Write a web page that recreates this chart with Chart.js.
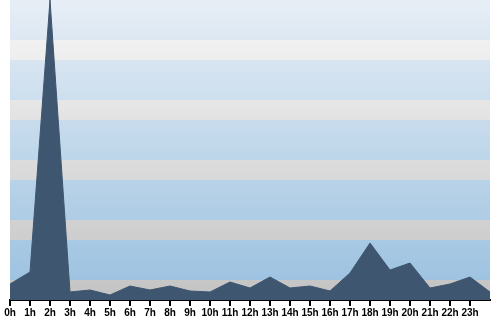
<!DOCTYPE html>
<html>
<head>
<meta charset="utf-8">
<script src="https://cdn.jsdelivr.net/npm/chart.js@4"></script>
<style>
  html, body { margin: 0; padding: 0; background: #fff; }
  #wrap { width: 500px; height: 320px; }
</style>
</head>
<body>
<div id="wrap"><canvas id="hours" width="500" height="320"></canvas></div>
<script>
// hourly values (last slot closes the area, no label)
const hourLabels = ["0h","1h","2h","3h","4h","5h","6h","7h","8h","9h","10h","11h",
  "12h","13h","14h","15h","16h","17h","18h","19h","20h","21h","22h","23h",""];
const hourValues = [16, 28, 300, 8, 10, 5, 14, 10, 14, 9, 8, 18,
  12, 23, 12, 14, 9, 27, 57, 30, 37, 12, 16, 23, 8];
const yMax = 300;

// striped gradient background behind the plot
const bandsBg = {
    id: "bandsBg",
    beforeDraw(chart) {
        const { ctx, chartArea: a, scales } = chart;
        const y = scales.y;
        const blue = ctx.createLinearGradient(0, a.top, 0, a.bottom);
        blue.addColorStop(0, "#e7eef6");
        blue.addColorStop(1, "#99c0df");
        const gray = ctx.createLinearGradient(0, a.top, 0, a.bottom);
        gray.addColorStop(0, "#f8f8f8");
        gray.addColorStop(1, "#c3c3c4");
        ctx.save();
        ctx.fillStyle = blue;
        ctx.fillRect(a.left, a.top, a.right - a.left, a.bottom - a.top);
        ctx.fillStyle = gray;
        for (let v = 0; v < yMax; v += 60) {
            const top = y.getPixelForValue(v + 20);
            const bot = y.getPixelForValue(v);
            ctx.fillRect(a.left, top, a.right - a.left, bot - top);
        }
        ctx.restore();
    }
};

new Chart(document.getElementById("hours"), {
    type: "line",
    data: {
        labels: hourLabels,
        datasets: [{
            data: hourValues,
            fill: "origin",
            backgroundColor: "#3e566f",
            borderColor: "#3e566f",
            borderWidth: 1,
            pointRadius: 0,
            tension: 0
        }]
    },
    options: {
        responsive: false,
        animation: false,
        layout: { padding: { left: 10, right: 10, top: 0, bottom: 0 } },
        plugins: { legend: { display: false }, tooltip: { enabled: false } },
        scales: {
            x: {
                offset: false,
                afterFit: s => { s.height = 20; },
                grid: {
                    drawOnChartArea: false,
                    tickLength: 6,
                    lineWidth: 2,
                    color: ctx => ctx.index === hourLabels.length - 1 ? "rgba(0,0,0,0)" : "#000"
                },
                border: { color: "#000", width: 2 },
                ticks: {
                    autoSkip: false,
                    maxRotation: 0,
                    padding: 1,
                    color: "#000",
                    font: { family: "Liberation Sans", size: 10, weight: "bold" }
                }
            },
            y: { display: false, min: 0, max: yMax }
        }
    },
    plugins: [bandsBg]
});
</script>
</body>
</html>
